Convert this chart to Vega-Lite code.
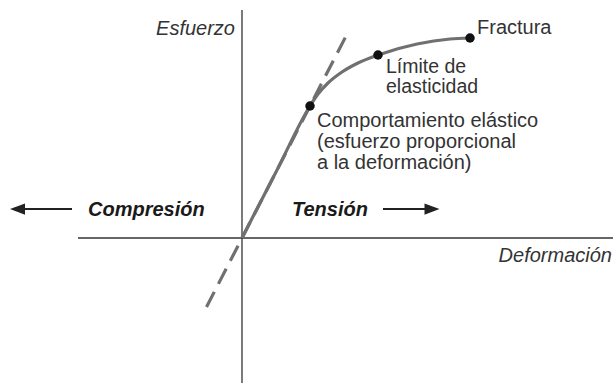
{
  "$schema": "https://vega.github.io/schema/vega-lite/v6.json",
  "width": 613,
  "height": 383,
  "padding": 0,
  "autosize": {"type": "none"},
  "background": "white",
  "config": {"view": {"stroke": null}},
  "encoding": {
    "x": {"field": "x", "type": "quantitative", "scale": {"domain": [-24.2, 37.1], "nice": false, "zero": false}, "axis": null},
    "y": {"field": "y", "type": "quantitative", "scale": {"domain": [-14.5, 23.8], "nice": false, "zero": false}, "axis": null}
  },
  "layer": [
    {
      "data": {"values": [
        {"x": 0, "y": -14.5, "x2": 0, "y2": 22.8},
        {"x": -16.4, "y": 0, "x2": 37.1, "y2": 0}
      ]},
      "mark": {"type": "rule", "color": "#333333", "strokeWidth": 1.3},
      "encoding": {"x2": {"field": "x2"}, "y2": {"field": "y2"}}
    },
    {
      "data": {"values": [
        {"x": -3.55, "y": -6.9},
        {"x": 10.56, "y": 20.5}
      ]},
      "mark": {"type": "line", "color": "#707070", "strokeWidth": 3.2, "strokeDash": [17, 9]},
      "encoding": {}
    },
    {
      "data": {"values": [
        {"x": 0, "y": 0},
        {"x": 3.4, "y": 6.6},
        {"x": 6.8, "y": 13.2},
        {"x": 7.6, "y": 14.4},
        {"x": 8.6, "y": 15.5},
        {"x": 10.0, "y": 16.6},
        {"x": 11.6, "y": 17.5},
        {"x": 13.6, "y": 18.3},
        {"x": 17.5, "y": 19.4},
        {"x": 20.8, "y": 19.9},
        {"x": 22.8, "y": 20.0}
      ]},
      "mark": {"type": "line", "color": "#707070", "strokeWidth": 3.2, "interpolate": "monotone"},
      "encoding": {}
    },
    {
      "data": {"values": [
        {"x": 6.8, "y": 13.2},
        {"x": 13.6, "y": 18.3},
        {"x": 22.8, "y": 20.0}
      ]},
      "mark": {"type": "point", "shape": "circle", "filled": true, "color": "#111111", "size": 90, "opacity": 1}
    },
    {
      "data": {"values": [
        {"x": -21.7, "x2": -17.0, "y": 2.9},
        {"x": 14.1, "x2": 18.3, "y": 2.9}
      ]},
      "mark": {"type": "rule", "color": "#222222", "strokeWidth": 2},
      "encoding": {"x2": {"field": "x2"}}
    },
    {
      "data": {"values": [{"x": -22.45, "y": 2.9}]},
      "mark": {"type": "point", "shape": "M-1,0L1,-0.75L1,0.75Z", "filled": true, "color": "#222222", "size": 225, "opacity": 1}
    },
    {
      "data": {"values": [{"x": 19.0, "y": 2.9}]},
      "mark": {"type": "point", "shape": "M1,0L-1,-0.75L-1,0.75Z", "filled": true, "color": "#222222", "size": 225, "opacity": 1}
    },
    {
      "data": {"values": [
        {"label": "Fractura", "x": 23.5, "y": 20.4},
        {"label": "Comportamiento elástico", "x": 7.5, "y": 11.1},
        {"label": "(esfuerzo proporcional", "x": 7.5, "y": 9.0},
        {"label": "a la deformación)", "x": 7.5, "y": 6.9}
      ]},
      "mark": {"type": "text", "align": "left", "baseline": "alphabetic", "font": "Liberation Sans", "fontSize": 20, "color": "#333333"},
      "encoding": {"text": {"field": "label"}}
    },
    {
      "data": {"values": [
        {"label": "Límite de", "x": 14.4, "y": 16.5},
        {"label": "elasticidad", "x": 14.4, "y": 14.55}
      ]},
      "mark": {"type": "text", "align": "left", "baseline": "alphabetic", "font": "Liberation Sans", "fontSize": 19.5, "color": "#333333"},
      "encoding": {"text": {"field": "label"}}
    },
    {
      "data": {"values": [
        {"label": "Esfuerzo", "x": -0.7, "y": 20.3},
        {"label": "Deformación", "x": 37.0, "y": -2.35}
      ]},
      "mark": {"type": "text", "align": "right", "baseline": "alphabetic", "font": "Liberation Sans", "fontSize": 20, "fontStyle": "italic", "color": "#333333"},
      "encoding": {"text": {"field": "label"}}
    },
    {
      "data": {"values": [
        {"label": "Compresión", "x": -15.4, "y": 2.2},
        {"label": "Tensión", "x": 5.0, "y": 2.2}
      ]},
      "mark": {"type": "text", "align": "left", "baseline": "alphabetic", "font": "Liberation Sans", "fontSize": 20, "fontStyle": "italic", "fontWeight": "bold", "color": "#1a1a1a"},
      "encoding": {"text": {"field": "label"}}
    }
  ]
}
